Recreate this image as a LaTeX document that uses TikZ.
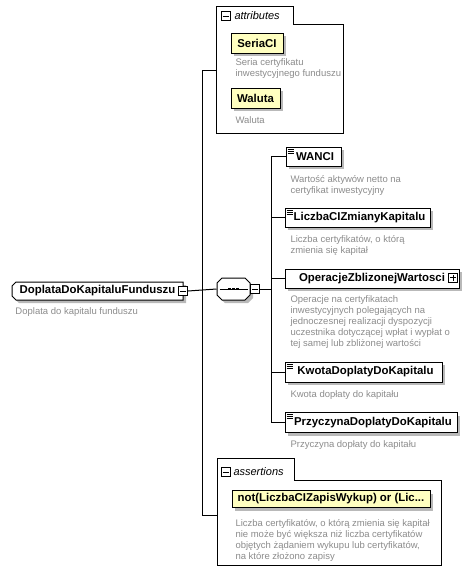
\documentclass[tikz,border=0pt]{standalone}
\usepackage{fontspec}
\setmainfont{Liberation Sans}
\usetikzlibrary{shadows}
\definecolor{descgray}{RGB}{140,140,140}
\definecolor{attrfill}{RGB}{255,255,192}
\definecolor{shadowgray}{RGB}{185,185,185}
\tikzset{
  shd/.style={drop shadow={shadow xshift=3pt, shadow yshift=-3pt, fill=shadowgray, opacity=1}},
  nm/.style={font=\bfseries\fontsize{11.4}{13}\selectfont},
  elbox/.style={draw, fill=white, nm, inner sep=0pt, shd},
  attbox/.style={elbox, fill=attrfill},
  desc/.style={anchor=north west, inner sep=0pt, align=left, text=descgray, font=\fontsize{9.5}{11}\selectfont},
  tablbl/.style={anchor=west, inner sep=0pt, font=\itshape\fontsize{11}{13}\selectfont},
  framebox/.style={draw, fill=white},
  pmbox/.style={draw, fill=white, minimum size=9pt, inner sep=0pt},
  conn/.style={draw},
  docicon/.style={line width=0.8pt},
  shapebase/.style={inner sep=0pt}
}
\newcommand{\minussign}[1]{\draw ([xshift=2pt]#1.west) -- ([xshift=-2pt]#1.east);}
\newcommand{\plussign}[1]{\draw ([xshift=2pt]#1.west) -- ([xshift=-2pt]#1.east); \draw ([yshift=2pt]#1.south) -- ([yshift=-2pt]#1.north);}
\newcommand{\docmark}[1]{%
  \draw[docicon] ([shift={(2,2.5)}]#1.north west) -- ++(6,0);
  \draw[docicon] ([shift={(2,4.5)}]#1.north west) -- ++(6,0);
  \draw[docicon] ([shift={(2,6.5)}]#1.north west) -- ++(6,0);}
\begin{document}
\begin{tikzpicture}[x=1pt,y=-1pt,line width=1pt]
\useasboundingbox (0,0) rectangle (474,573);

% ---------- trunk coordinates ----------
\coordinate (trtop) at (202,70);
\coordinate (trbot) at (202,515);
\coordinate (brtop) at (271,156.5);
\coordinate (brbot) at (271,422.5);
\coordinate (brmid) at (271,289);

% ---------- attributes frame ----------
\draw[framebox] (216,6) -- (293,6) -- (293,24) -- (343,24) -- (343,133) -- (216,133) -- cycle;
\coordinate (attrin) at (216,70);
\node[pmbox] (attrpm) at (225.5,16) {};
\minussign{attrpm}
\node[tablbl] (attrlbl) at (234,16) {attributes};
\node[attbox, minimum width=52pt, minimum height=20pt] (seria) at (257,43) {SeriaCI};
\node[desc] (seriad) at (235,58.5) {Seria certyfikatu\\inwestycyjnego funduszu};
\node[attbox, minimum width=49pt, minimum height=20pt] (waluta) at (255.5,98) {Waluta};
\node[desc] (walutad) at (235,116.5) {Waluta};

% ---------- assertions frame ----------
\draw[framebox] (217,458) -- (294,458) -- (294,480) -- (441,480) -- (441,565) -- (217,565) -- cycle;
\coordinate (assin) at (217,515);
\node[pmbox] (asspm) at (225.5,472) {};
\minussign{asspm}
\node[tablbl] (asslbl) at (233,472) {assertions};
\node[attbox, minimum width=198pt, minimum height=17pt] (assert) at (331,499) {not(LiczbaCIZapisWykup) or (Lic...};
\node[desc] (assertd) at (235,518.5) {Liczba certyfikatów, o którą zmienia się kapitał\\nie może być większa niż liczba certyfikatów\\objętych żądaniem wykupu lub certyfikatów,\\na które złożono zapisy};

% ---------- main element ----------
\fill[shadowgray] (19,285) -- (186,285) -- (186,303) -- (19,303) -- (15,299) -- (15,289) -- cycle;
\draw[fill=white] (16,282) -- (183,282) -- (183,300) -- (16,300) -- (12,296) -- (12,286) -- cycle;
\node[shapebase, nm, minimum width=171pt, minimum height=18pt] (main) at (97.5,291) {DoplataDoKapitaluFunduszu\hspace{6pt}};
\node[pmbox] (mainpm) at (183,291) {};
\minussign{mainpm}
\node[desc] (maind) at (15,307.5) {Doplata do kapitalu funduszu};

% ---------- sequence ----------
\fill[shadowgray] (225,281) -- (248,281) -- (253,286) -- (253,298) -- (248,303) -- (225,303) -- (220,298) -- (220,286) -- cycle;
\draw[fill=white] (222,278) -- (245,278) -- (250,283) -- (250,295) -- (245,300) -- (222,300) -- (217,295) -- (217,283) -- cycle;
\node[shapebase, minimum width=33pt, minimum height=22pt] (seq) at (233.5,289) {};
\draw ([xshift=3pt]seq.west) -- ([xshift=-3pt]seq.east);
\fill ([shift={(-5.25,-1.25)}]seq.center) rectangle ++(2.5,2.5);
\fill ([shift={(-1.25,-1.25)}]seq.center) rectangle ++(2.5,2.5);
\fill ([shift={(2.75,-1.25)}]seq.center) rectangle ++(2.5,2.5);
\node[pmbox] (seqpm) at (255,289) {};
\minussign{seqpm}

% ---------- children ----------
\node[elbox, minimum width=55pt, minimum height=19pt] (wanci) at (313.5,156.5) {\hspace{3pt}WANCI};
\docmark{wanci}
\node[desc] (wancid) at (290,175.5) {Wartość aktywów netto na\\certyfikat inwestycyjny};

\node[elbox, minimum width=145pt, minimum height=19pt] (liczba) at (357.5,217.5) {\hspace{4pt}LiczbaCIZmianyKapitalu};
\docmark{liczba}
\node[desc] (liczbad) at (290,235.5) {Liczba certyfikatów, o którą\\zmienia się kapitał};

\node[elbox, minimum width=174pt, minimum height=19pt] (oper) at (372,278.5) {OperacjeZblizonejWartosci\hspace{8pt}};
\node[pmbox] (operpm) at (453,277.5) {};
\plussign{operpm}
\node[desc] (operd) at (290,295.5) {Operacje na certyfikatach\\inwestycyjnych polegających na\\jednoczesnej realizacji dyspozycji\\uczestnika dotyczącej wpłat i wypłat o\\tej samej lub zbliżonej wartości};

\node[elbox, minimum width=157pt, minimum height=20pt] (kwota) at (363.5,372) {\hspace{4pt}KwotaDoplatyDoKapitalu};
\docmark{kwota}
\node[desc] (kwotad) at (290,390.5) {Kwota dopłaty do kapitału};

\node[elbox, minimum width=172pt, minimum height=20pt] (przy) at (371,422.5) {\hspace{4pt}PrzyczynaDoplatyDoKapitalu};
\docmark{przy}
\node[desc] (przyd) at (290,440.5) {Przyczyna dopłaty do kapitału};

% ---------- connectors ----------
\draw[conn] (mainpm.east) -- (seq.west);
\draw[conn] (trtop) -- (trbot);
\draw[conn] (trtop) -- (attrin);
\draw[conn] (trbot) -- (assin);
\draw[conn] (seqpm.east) -- (brmid);
\draw[conn] (brtop) -- (brbot);
\draw[conn] (brtop) -- (wanci.west);
\draw[conn] (liczba.west -| brtop) -- (liczba.west);
\draw[conn] (oper.west -| brtop) -- (oper.west);
\draw[conn] (kwota.west -| brtop) -- (kwota.west);
\draw[conn] (brbot) -- (przy.west);
\end{tikzpicture}
\end{document}
